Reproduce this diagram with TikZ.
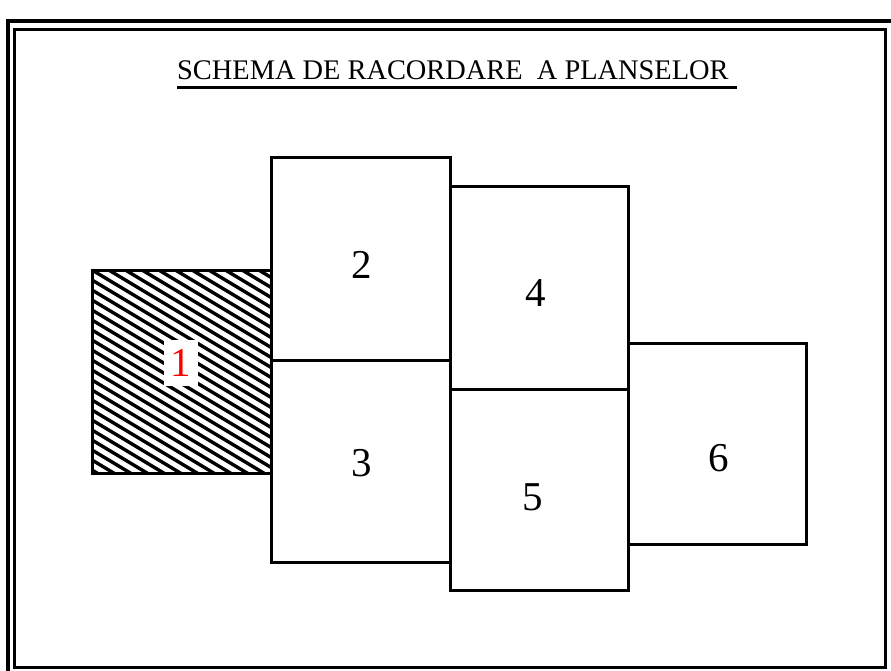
\documentclass[tikz,border=0pt]{standalone}
\usepackage{fontspec}
\setmainfont{Liberation Serif}
\begin{document}
\begin{tikzpicture}[x=1pt,y=-1pt,
  frame/.style={draw=black,line width=3pt},
  sheet/.style={draw=black,line width=3pt,line join=miter},
  hatchline/.style={black,line width=3.4pt},
  digit/.style={font=\fontsize{41}{45}\selectfont,inner sep=0pt,anchor=center},
]
\useasboundingbox (0,0) rectangle (891,670);
\fill[white] (0,0) rectangle (891,670);
\begin{scope}
\clip (0,0) rectangle (891,670);
\draw[frame,line width=4pt] (8,21) rectangle (900,680);
\draw[frame] (14,29) rectangle (885,667);
\end{scope}
% title
\node[font=\fontsize{28.4}{32}\selectfont,inner sep=0pt,anchor=base west] (title) at (177,79) {SCHEMA DE RACORDARE\ \ A PLANSELOR};
\coordinate (ulA) at (177,87);
\coordinate (ulB) at (737,87);
\draw[line width=3pt] (ulA) -- (ulB);
% hatch of sheet 1
\begin{scope}
\clip (92,270) rectangle (271,473);
\foreach \k in {-32,...,22}{
  \draw[hatchline] (80,270+10*\k-7.2) -- (285,270+10*\k+115.8);
}
\end{scope}
% sheets
\node[sheet,minimum width=179pt,minimum height=203pt,inner sep=0pt] (s1) at (181.5,371.5) {};
\node[sheet,minimum width=179pt,minimum height=203pt,inner sep=0pt] (s2) at (360.5,258.5) {};
\node[sheet,minimum width=179pt,minimum height=202pt,inner sep=0pt] (s3) at (360.5,461) {};
\node[sheet,minimum width=178pt,minimum height=203pt,inner sep=0pt] (s4) at (539,287.5) {};
\node[sheet,minimum width=178pt,minimum height=201pt,inner sep=0pt] (s5) at (539,489.5) {};
\node[sheet,minimum width=178pt,minimum height=201pt,inner sep=0pt] (s6) at (717,443.5) {};
% labels
\node[digit,fill=white,inner xsep=7pt,inner ysep=9pt,text=red] (l1) at (181,363) {1};
\node[digit] (l2) at (362,265) {2};
\node[digit] (l3) at (362,463) {3};
\node[digit] (l4) at (536,293) {4};
\node[digit] (l5) at (533,497) {5};
\node[digit] (l6) at (719,458) {6};
\end{tikzpicture}
\end{document}
